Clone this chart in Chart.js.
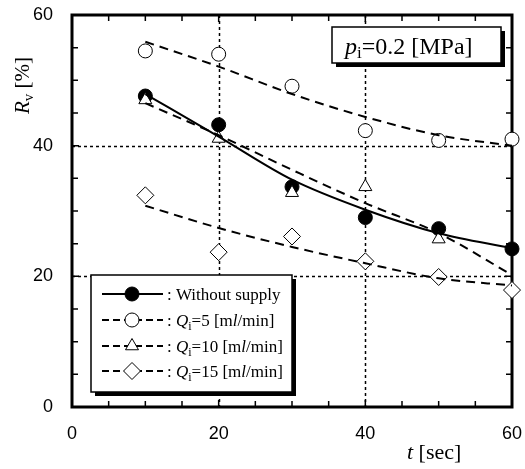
<!DOCTYPE html>
<html>
<head>
<meta charset="utf-8">
<script src="https://cdn.jsdelivr.net/npm/chart.js@4/dist/chart.umd.min.js"></script>
<style>
  html, body { margin: 0; padding: 0; background: #fff; }
  canvas { display: block; }
</style>
</head>
<body>
<canvas id="rvChart" width="525" height="469"></canvas>
<script>
// measured points, t [sec]
const times = [10, 20, 30, 40, 50, 60];
const noSupply = [47.6, 43.2, 33.7, 29.0, 27.3, 24.2];
const q5 = [54.5, 54.0, 49.1, 42.3, 40.8, 41.0];
const q10Times = [10, 20, 30, 40, 50];
const q10 = [47.0, 41.1, 32.8, 33.7, 25.7];
const q15 = [32.4, 23.7, 26.1, 22.3, 19.9, 17.9];

// fitted curves
const fitNoSupply = [47.9, 41.4, 34.8, 30.2, 26.6, 24.3];
const fitQ5 = [55.9, 52.1, 47.9, 44.4, 41.6, 40.0];
const fitQ10 = [46.5, 41.6, 36.3, 31.2, 26.6, 20.2];
const fitQ15 = [30.8, 27.4, 24.5, 22.0, 19.7, 18.6];

const xTicks = [0, 20, 40, 60];
const yTicks = [0, 20, 40, 60];
const gridValues = [20, 40];

const SERIF = '"Liberation Serif", "Times New Roman", serif';
const SANS = '"Liberation Sans", Arial, sans-serif';

function pts(xs, ys) {
    return ys.map((v, i) => ({ x: xs[i], y: v }));
}

function fitSet(ys, dash) {
    return {
        type: "line",
        data: pts(times, ys),
        borderColor: "#000",
        borderWidth: 2,
        borderDash: dash,
        pointRadius: 0,
        tension: 0.4,
        cubicInterpolationMode: "monotone",
        fill: false,
        clip: false,
    };
}

function markSet(xs, ys, style, fill, radius) {
    return {
        type: "scatter",
        data: pts(xs, ys),
        showLine: false,
        pointStyle: style,
        pointRadius: radius,
        pointHoverRadius: radius,
        pointBackgroundColor: fill,
        pointBorderColor: "#000",
        pointBorderWidth: 1,
        clip: false,
    };
}

// write text made of pieces (italic, subscript ...)
function drawRich(ctx, parts, x, y) {
    ctx.textBaseline = "alphabetic";
    ctx.textAlign = "left";
    let cx = x;
    parts.forEach((p) => {
        ctx.font = p.font;
        ctx.fillText(p.t, cx, y + (p.dy || 0));
        cx += ctx.measureText(p.t).width;
    });
    return cx - x;
}

function qLabel(n, size) {
    const reg = size + "px " + SERIF;
    const it = "italic " + size + "px " + SERIF;
    const sub = Math.round(size * 0.7) + "px " + SERIF;
    return [
        { t: ": ", font: reg },
        { t: "Q", font: it },
        { t: "i", font: sub, dy: 4 },
        { t: "=" + n + " [m", font: reg },
        { t: "l", font: it },
        { t: "/min]", font: reg },
    ];
}

const framePlugin = {
    id: "frame",
    beforeDatasetsDraw(chart) {
        const { ctx, chartArea: a, scales } = chart;
        const xs = scales.x, ys = scales.y;
        ctx.save();
        // dotted guide lines
        ctx.strokeStyle = "#000";
        ctx.lineWidth = 1.5;
        ctx.setLineDash([3, 3]);
        gridValues.forEach((v) => {
            const px = Math.round(xs.getPixelForValue(v)) + 0.5;
            ctx.beginPath();
            ctx.moveTo(px, a.top);
            ctx.lineTo(px, a.bottom);
            ctx.stroke();
            const py = Math.round(ys.getPixelForValue(v)) + 0.5;
            ctx.beginPath();
            ctx.moveTo(a.left, py);
            ctx.lineTo(a.right, py);
            ctx.stroke();
        });
        ctx.setLineDash([]);
        // inward ticks every 5
        ctx.lineWidth = 1.5;
        for (let v = 5; v < 60; v += 5) {
            const len = v % 20 === 0 ? 7 : 6;
            const px = xs.getPixelForValue(v);
            ctx.beginPath();
            ctx.moveTo(px, a.bottom);
            ctx.lineTo(px, a.bottom - len);
            ctx.moveTo(px, a.top);
            ctx.lineTo(px, a.top + len);
            const py = ys.getPixelForValue(v);
            ctx.moveTo(a.left, py);
            ctx.lineTo(a.left + len, py);
            ctx.moveTo(a.right, py);
            ctx.lineTo(a.right - len, py);
            ctx.stroke();
        }
        // frame
        ctx.lineWidth = 3;
        ctx.strokeRect(a.left, a.top, a.right - a.left, a.bottom - a.top);
        ctx.restore();
    },
    afterDatasetsDraw(chart) {
        const { ctx } = chart;
        ctx.save();
        ctx.fillStyle = "#000";

        // axis titles
        drawRich(ctx, [
            { t: "t", font: "italic 22px " + SERIF },
            { t: " [sec]", font: "22px " + SERIF },
        ], 407, 459);

        ctx.save();
        ctx.translate(29, 114);
        ctx.rotate(-Math.PI / 2);
        drawRich(ctx, [
            { t: "R", font: "italic 21px " + SERIF },
            { t: "v", font: "15px " + SERIF, dy: 4 },
            { t: " [%]", font: "21px " + SERIF },
        ], 0, 0);
        ctx.restore();

        // annotation box with shadow
        const bx = 332, by = 27, bw = 169, bh = 36;
        ctx.fillRect(bx + 4, by + 4, bw, bh);
        ctx.fillStyle = "#fff";
        ctx.fillRect(bx, by, bw, bh);
        ctx.strokeStyle = "#000";
        ctx.lineWidth = 1.5;
        ctx.strokeRect(bx, by, bw, bh);
        ctx.fillStyle = "#000";
        drawRich(ctx, [
            { t: "p", font: "italic 24px " + SERIF },
            { t: "i", font: "17px " + SERIF, dy: 4 },
            { t: "=0.2 [MPa]", font: "24px " + SERIF },
        ], 345, 54);

        // legend box with shadow
        const lx = 91, ly = 275, lw = 201, lh = 117;
        ctx.fillRect(lx + 4, ly + 4, lw, lh);
        ctx.fillStyle = "#fff";
        ctx.fillRect(lx, ly, lw, lh);
        ctx.strokeRect(lx, ly, lw, lh);

        const rows = [
            { dash: [], style: "circle", fill: "#000", r: 7,
              text: [{ t: ": Without supply", font: "17px " + SERIF }] },
            { dash: [7, 4], style: "circle", fill: "#fff", r: 7, text: qLabel(5, 17) },
            { dash: [7, 4], style: "triangle", fill: "#fff", r: 7.5, text: qLabel(10, 17) },
            { dash: [7, 4], style: "rectRot", fill: "#fff", r: 8.5, text: qLabel(15, 17) },
        ];
        const rowY = [294, 320, 346, 371];
        rows.forEach((row, i) => {
            const y = rowY[i];
            ctx.strokeStyle = "#000";
            ctx.lineWidth = 2;
            ctx.setLineDash(row.dash);
            ctx.beginPath();
            ctx.moveTo(102, y);
            ctx.lineTo(163, y);
            ctx.stroke();
            ctx.setLineDash([]);
            ctx.fillStyle = row.fill;
            ctx.lineWidth = 1;
            Chart.helpers.drawPoint(ctx, {
                pointStyle: row.style, radius: row.r, rotation: 0, borderWidth: 1,
            }, 132, y);
            ctx.fillStyle = "#000";
            drawRich(ctx, row.text, 167, y + 6);
        });
        ctx.restore();
    },
};

const ctx = document.getElementById("rvChart").getContext("2d");
new Chart(ctx, {
    data: {
        datasets: [
            fitSet(fitQ5, [9, 6]),
            fitSet(fitQ10, [9, 6]),
            fitSet(fitQ15, [9, 6]),
            fitSet(fitNoSupply, []),
            markSet(times, q5, "circle", "#fff", 7),
            markSet(q10Times, q10, "triangle", "#fff", 7.5),
            markSet(times, q15, "rectRot", "#fff", 8.5),
            markSet(times, noSupply, "circle", "#000", 7),
        ],
    },
    options: {
        responsive: false,
        animation: false,
        devicePixelRatio: 1,
        layout: { padding: { left: 0, top: 15, right: 13, bottom: 0 } },
        plugins: {
            legend: { display: false },
            tooltip: { enabled: false },
        },
        scales: {
            x: {
                type: "linear",
                min: 0,
                max: 60,
                afterFit: (s) => {
                    s.height = 62;
                    s.paddingLeft = 0;
                    s.paddingRight = 0;
                },
                afterBuildTicks: (s) => { s.ticks = xTicks.map((v) => ({ value: v })); },
                grid: { display: false, drawTicks: false },
                border: { display: false },
                ticks: { color: "#000", font: { family: SANS, size: 18 }, padding: 16, maxRotation: 0 },
            },
            y: {
                type: "linear",
                min: 0,
                max: 60,
                afterFit: (s) => {
                    s.width = 72;
                    s.paddingTop = 0;
                    s.paddingBottom = 0;
                },
                afterBuildTicks: (s) => { s.ticks = yTicks.map((v) => ({ value: v })); },
                grid: { display: false, drawTicks: false },
                border: { display: false },
                ticks: { color: "#000", font: { family: SANS, size: 18 }, padding: 19 },
            },
        },
    },
    plugins: [framePlugin],
});
</script>
</body>
</html>
